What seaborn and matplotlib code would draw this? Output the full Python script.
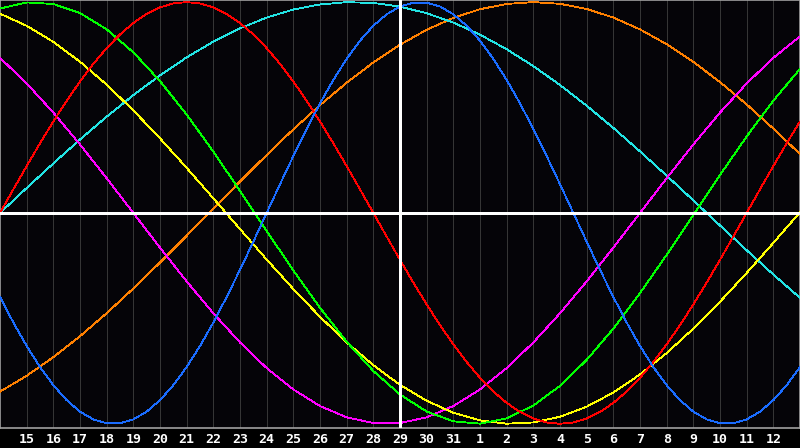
import numpy as np
import pandas as pd
import matplotlib
matplotlib.use("Agg")
import matplotlib.pyplot as plt
import seaborn as sns

# day index 0..30 (today = index 15, the 29th)
day_index = list(range(31))
half_day_index = [i / 2 for i in range(61)]
tick_pos = list(range(1, 30))
tick_labels = ["15", "16", "17", "18", "19", "20", "21", "22", "23", "24", "25",
               "26", "27", "28", "29", "30", "31", "1", "2", "3", "4", "5", "6",
               "7", "8", "9", "10", "11", "12"]
today_pos = 15

# short cycles read every half day
red = [0.0, 0.1120, 0.2225, 0.3303, 0.4339, 0.5320, 0.6235, 0.7071, 0.7818, 0.8467,
       0.9010, 0.9439, 0.9749, 0.9937, 1.0, 0.9937, 0.9749, 0.9439, 0.9010, 0.8467,
       0.7818, 0.7071, 0.6235, 0.5320, 0.4339, 0.3303, 0.2225, 0.1120, 0.0, -0.1120,
       -0.2225, -0.3303, -0.4339, -0.5320, -0.6235, -0.7071, -0.7818, -0.8467,
       -0.9010, -0.9439, -0.9749, -0.9937, -1.0, -0.9937, -0.9749, -0.9439, -0.9010,
       -0.8467, -0.7818, -0.7071, -0.6235, -0.5320, -0.4339, -0.3303, -0.2225,
       -0.1120, 0.0, 0.1120, 0.2225, 0.3303, 0.4339]
blue = [-0.3984, -0.5196, -0.6311, -0.7308, -0.8170, -0.8879, -0.9423, -0.9791,
        -0.9977, -0.9977, -0.9791, -0.9423, -0.8879, -0.8170, -0.7308, -0.6311,
        -0.5196, -0.3984, -0.2698, -0.1362, 0.0, 0.1362, 0.2698, 0.3984, 0.5196,
        0.6311, 0.7308, 0.8170, 0.8879, 0.9423, 0.9791, 0.9977, 0.9977, 0.9791,
        0.9423, 0.8879, 0.8170, 0.7308, 0.6311, 0.5196, 0.3984, 0.2698, 0.1362, 0.0,
        -0.1362, -0.2698, -0.3984, -0.5196, -0.6311, -0.7308, -0.8170, -0.8879,
        -0.9423, -0.9791, -0.9977, -0.9977, -0.9791, -0.9423, -0.8879, -0.8170,
        -0.7308]

# longer cycles read once per day
green = [0.9695, 0.9984, 0.9911, 0.9481, 0.8708, 0.7618, 0.6254, 0.4667, 0.2908,
         0.1045, -0.0856, -0.2726, -0.4498, -0.6108, -0.7496, -0.8611, -0.9418,
         -0.9884, -0.9993, -0.9740, -0.9135, -0.8200, -0.6970, -0.5487, -0.3804,
         -0.1986, -0.0096, 0.1799, 0.3628, 0.5326, 0.6831]
cyan = [0.0, 0.1183, 0.2349, 0.3482, 0.4566, 0.5586, 0.6528, 0.7379, 0.8126,
        0.8758, 0.9267, 0.9647, 0.9890, 0.9996, 0.9961, 0.9786, 0.9473, 0.9028,
        0.8457, 0.7764, 0.6965, 0.6068, 0.5085, 0.4031, 0.2920, 0.1769, 0.0593,
        -0.0593, -0.1769, -0.2920, -0.4031]
yellow = [0.9453, 0.8877, 0.8112, 0.7173, 0.6083, 0.4863, 0.3537, 0.2139, 0.0694,
          -0.0765, -0.2210, -0.3607, -0.4925, -0.6139, -0.7224, -0.8155, -0.8910,
          -0.9476, -0.9840, -0.9995, -0.9936, -0.9666, -0.9190, -0.8517, -0.7661,
          -0.6643, -0.5488, -0.4212, -0.2845, -0.1420, 0.0037]
magenta = [0.7357, 0.6142, 0.4759, 0.3247, 0.1646, 0.0, -0.1646, -0.3247, -0.4759,
           -0.6142, -0.7357, -0.8372, -0.9158, -0.9694, -0.9966, -0.9966, -0.9694,
           -0.9158, -0.8372, -0.7357, -0.6142, -0.4759, -0.3247, -0.1646, 0.0,
           0.1646, 0.3247, 0.4759, 0.6142, 0.7357, 0.8372]
orange = [-0.8476, -0.7723, -0.6841, -0.5846, -0.4754, -0.3582, -0.2352, -0.1082,
          0.0206, 0.1491, 0.2751, 0.3965, 0.5113, 0.6176, 0.7138, 0.7977, 0.8688,
          0.9252, 0.9664, 0.9914, 1.0, 0.9919, 0.9674, 0.9268, 0.8707, 0.8003,
          0.7164, 0.6207, 0.5147, 0.4000, 0.2788]

series = [
    (day_index, orange, "#ff8000"),
    (day_index, cyan, "#22e4e4"),
    (day_index, magenta, "#ff00ff"),
    (day_index, yellow, "#ffff00"),
    (day_index, green, "#00ff00"),
    (half_day_index, red, "#ff0000"),
    (half_day_index, blue, "#1a6cff"),
]

sns.set_style("dark", {"axes.facecolor": "#050408", "figure.facecolor": "#000000"})
plt.rcParams['font.family'] = ['DejaVu Sans Mono', 'DejaVu Sans']

fig = plt.figure(figsize=(8, 4.48), dpi=100)
ax = fig.add_axes([0, 20 / 448, 1, 428 / 448])
ax.set_facecolor("#050408")

for x in tick_pos:
    ax.axvline(x, color="#353535", lw=0.6, zorder=1, antialiased=False)

for xs, vals, col in series:
    sns.lineplot(x=xs, y=vals, color=col, lw=0.6, ax=ax,
                 antialiased=False, zorder=3)

ax.axhline(0, color="#ffffff", lw=0.9, zorder=4, antialiased=False)
ax.axvline(today_pos, color="#ffffff", lw=0.8, zorder=4, antialiased=False)

ax.set_xlim(0, 30)
ax.set_ylim(-1.02, 1.01)
ax.set_yticks([])
ax.set_xticks(tick_pos)
ax.set_xticklabels(tick_labels)
ax.tick_params(axis="x", length=0, pad=3.5, colors="#ffffff", labelsize=9.5)
for lab in ax.get_xticklabels():
    lab.set_fontweight("bold")
ax.set_xlabel("")
ax.set_ylabel("")
ax.grid(False)
for s in ax.spines.values():
    s.set_visible(True)
    s.set_color("#a0a0a0")
    s.set_linewidth(1.2)

fig.savefig("out.png", dpi=100, facecolor="#000000")
